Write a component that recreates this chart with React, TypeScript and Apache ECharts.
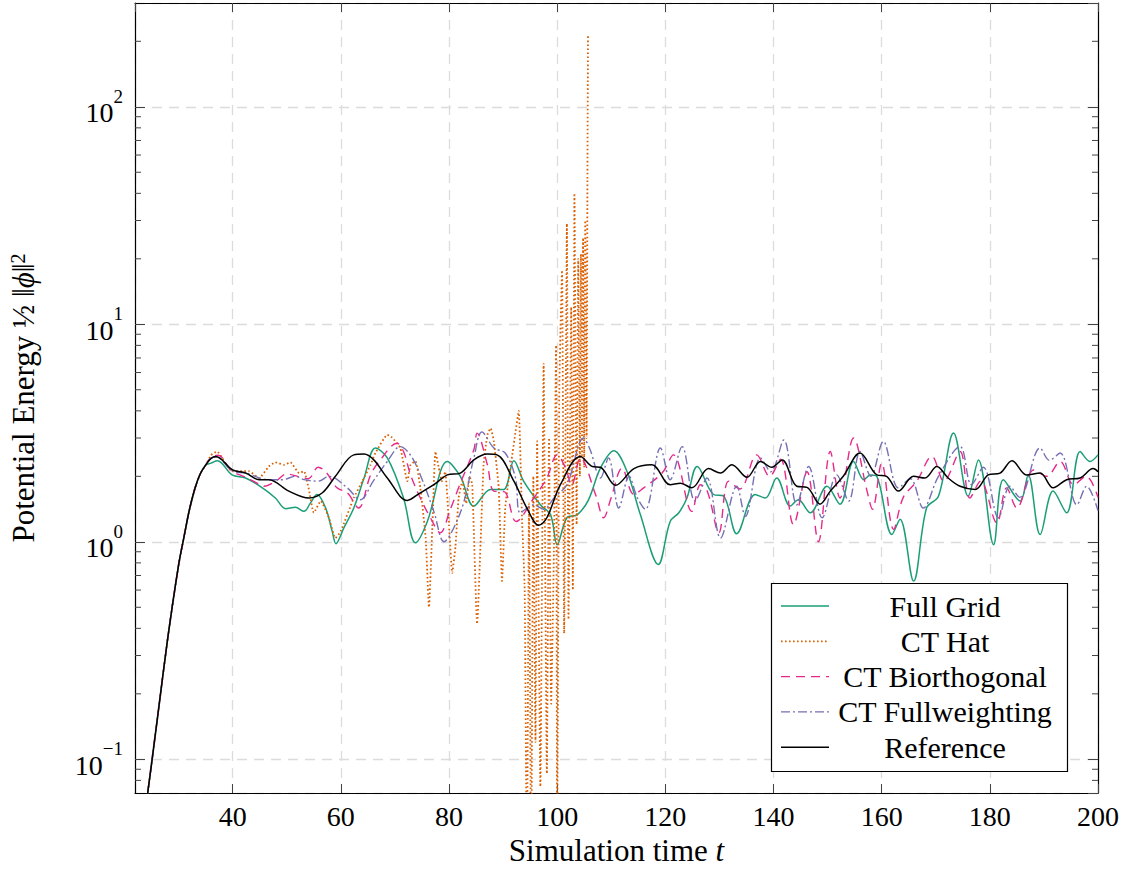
import React, { useEffect, useRef } from 'react';
import * as echarts from 'echarts';

const X_MIN = 21.95;
const X_MAX = 200;
const Y_MIN = 0.07;
const Y_MAX = 300;

const seriesNames = ['Full Grid', 'CT Hat', 'CT Biorthogonal', 'CT Fullweighting', 'Reference'];
const seriesColors = ['#1b9e77', '#d95f02', '#e7298a', '#7570b3', '#000000'];

// shared initial growth phase (t, energy)
const riseShared = [[21.5, 0.024], [24, 0.062], [26, 0.148], [28, 0.36], [30, 0.78], [31, 1.05], [32, 1.4], [33, 1.75], [34, 2.05], [35, 2.25]];

const fullGridData = [[36, 2.3], [37.2, 2.36], [39.9, 2.03], [42.4, 1.965], [45.5, 1.77], [47.9, 1.59], [49.8, 1.42], [51.6, 1.44], [53.2, 1.38], [54.4, 1.51], [55.6, 1.65], [57.2, 1.43], [58.4, 1.12], [59.1, 0.98], [60.5, 1.15], [62.4, 1.43], [64.3, 1.965], [66.4, 2.7], [68.6, 2.43], [71.6, 1.59], [73.8, 0.99], [76, 1.24], [79.7, 2.34], [82.1, 2.0], [84.6, 1.46], [87.7, 1.74], [90.1, 1.74], [92, 2.36], [93.8, 1.9], [96.9, 1.48], [98.8, 1.33], [100, 0.97], [101.8, 1.29], [103.7, 1.33], [105.8, 1.56], [108, 2.18], [110.5, 2.62], [112.9, 2.11], [115.4, 1.33], [118.7, 0.787], [120.9, 1.24], [122.5, 1.36], [124, 1.59], [125.9, 2.22], [128.9, 1.65], [130.8, 1.62], [133.2, 1.09], [136.6, 1.65], [138.5, 1.59], [140.6, 1.965], [143.1, 1.46], [144.6, 1.56], [146.8, 1.36], [149.9, 1.8], [152.3, 1.49], [154.8, 2.34], [156.7, 1.93], [157.9, 2.03], [159.1, 2.0], [161.9, 1.08], [163.4, 1.27], [165.9, 0.66], [168.3, 1.43], [170.5, 1.62], [173.3, 3.16], [176, 1.62], [177.9, 2.38], [180.7, 0.97], [182.5, 1.93], [185.6, 1.54], [187.1, 2.03], [189.3, 1.08], [191.7, 1.71], [194.2, 1.36], [196.7, 2.6], [198.5, 2.34], [200, 2.51]];

const ctHatData = [[36, 2.5], [37.1, 2.6], [39.9, 2.11], [43, 2.11], [44.9, 1.965], [46.7, 2.22], [47.9, 2.32], [49.5, 2.26], [50.7, 2.32], [52.3, 2.07], [53.2, 2.11], [54.1, 1.74], [55, 1.36], [56.3, 1.54], [57.8, 1.29], [59, 1.04], [60, 1.12], [62.4, 1.59], [64, 1.9], [65.5, 2.26], [66.4, 2.56], [68.6, 3.1], [69.3, 3.05], [71, 2.7], [72.3, 1.9], [72.9, 2.26], [73.8, 2.35], [74.7, 1.77], [75.7, 1.04], [76.3, 0.5], [76.9, 1.12], [77.5, 2.6], [78.1, 2.2], [78.7, 1.9], [79.3, 2.1], [80, 1.2], [80.6, 0.72], [81.2, 0.95], [81.8, 1.6], [82.5, 1.9], [83.2, 1.5], [83.8, 2.0], [84.3, 1.83], [85.2, 0.42], [86.4, 2.26], [87.1, 3.1], [87.7, 3.33], [88.3, 2.89], [89.2, 1.77], [89.8, 0.66], [90.4, 1.43], [91, 1.9], [91.6, 2.4], [92.3, 3.2], [92.9, 4.0], [93.5, 1.3], [94, 0.6], [94.4, 0.03], [94.8, 1.5], [95.2, 0.03], [95.6, 2.0], [96, 0.12], [96.3, 2.9], [96.9, 0.075], [97.5, 6.6], [98.1, 0.086], [98.5, 3.0], [98.9, 0.18], [99.4, 0.9], [99.8, 8.0], [100, 0.04], [100.4, 5.0], [100.9, 17.7], [101.3, 0.38], [101.8, 29], [102.1, 0.44], [102.6, 12], [102.9, 0.6], [103.2, 40], [103.6, 1.2], [103.9, 20], [104.2, 2.0], [104.4, 21], [104.6, 2.5], [104.8, 25], [105, 2.2], [105.2, 30], [105.45, 3], [105.6, 46], [105.7, 211]];

const ctBiorthogonalData = [[36, 2.44], [37.3, 2.5], [39.9, 2.11], [42, 2.0], [44.2, 1.88], [45.8, 1.8], [48, 1.9], [50, 2.05], [52, 2.0], [54, 1.95], [55.8, 2.2], [57.2, 2.1], [59.3, 1.77], [61.2, 1.68], [63.3, 1.43], [65.5, 2.03], [67.3, 2.38], [70.4, 2.84], [71.6, 2.6], [72.9, 2.03], [74.7, 1.59], [76.5, 1.3], [78.4, 1.1], [80.2, 1.4], [82.1, 1.86], [84.6, 2.65], [85.2, 3.16], [87.1, 2.26], [88.3, 1.71], [90.2, 1.7], [92.4, 1.24], [95.7, 1.59], [98.1, 1.965], [100, 2.51], [101.5, 2.2], [102.7, 1.83], [104.3, 2.43], [107.1, 1.65], [108.6, 1.29], [110, 1.6], [112, 2.18], [114.2, 1.65], [116, 1.77], [119.4, 2.07], [121.5, 2.51], [124.9, 1.38], [126.5, 1.83], [127.8, 1.7], [129.9, 1.1], [131.7, 1.9], [133.8, 1.75], [136.9, 2.51], [139.3, 2.0], [141.3, 2.4], [143.7, 1.2], [146.2, 2.1], [148.3, 1.0], [150.5, 2.6], [152.3, 1.59], [154.8, 3.0], [157.3, 1.71], [158.3, 1.41], [160, 2.3], [162.2, 1.14], [164, 1.6], [166.5, 1.9], [169.3, 2.47], [171.5, 1.9], [174.5, 2.6], [176.3, 1.59], [178.3, 1.9], [181.3, 1.22], [183.1, 1.77], [185, 1.43], [188.1, 2.14], [190.5, 2.0], [193, 2.34], [195.5, 1.83], [197.8, 2.0], [200, 1.6]];

const ctFullweightingData = [[36, 2.42], [37, 2.45], [39.9, 2.12], [42.4, 2.07], [46.7, 1.93], [49.2, 1.93], [51.6, 2.0], [53.2, 1.93], [55.9, 1.9], [57.8, 2.0], [61.2, 1.77], [63.6, 1.56], [66, 1.9], [68.6, 2.34], [71, 2.74], [72.9, 2.5], [74.7, 2.03], [77.2, 1.38], [79.1, 1.0], [80.9, 1.16], [82.8, 1.54], [84.6, 2.43], [86.1, 3.2], [88.3, 2.7], [90.4, 2.56], [92.3, 1.965], [93.2, 1.36], [95.7, 1.48], [97.5, 1.41], [99.5, 1.6], [101.8, 1.83], [104.9, 3.0], [106.1, 2.65], [108, 1.965], [109.5, 2.43], [111.4, 1.43], [113.3, 2.0], [114.8, 1.6], [116.3, 1.41], [119.1, 2.7], [120.9, 1.93], [123.1, 2.74], [125.5, 1.54], [127.7, 1.965], [130.2, 1.04], [133.2, 1.8], [134.8, 1.31], [137.6, 2.43], [139.5, 2.1], [141.9, 2.94], [144.3, 1.48], [146.5, 2.22], [149, 1.29], [151.7, 2.03], [153.9, 1.54], [156, 2.6], [158, 2.0], [160.3, 2.89], [163.1, 1.77], [165.3, 1.95], [167.7, 1.43], [170.5, 2.0], [174.5, 2.74], [176.6, 1.83], [178.8, 2.2], [181.6, 1.29], [183.7, 1.8], [185.5, 1.6], [189.3, 2.7], [191, 2.37], [193, 2.56], [196.1, 1.48], [197.9, 1.8], [200, 1.39]];

const referenceData = [[36, 2.42], [36.9, 2.47], [40, 2.14], [42.4, 2.07], [44.9, 1.93], [46.7, 1.93], [50.4, 1.71], [54.1, 1.59], [56.6, 1.68], [59, 2.0], [62.4, 2.51], [64.3, 2.53], [66.1, 2.38], [68.6, 1.965], [72.3, 1.55], [74.7, 1.68], [77.2, 1.83], [79.7, 2.03], [82.1, 2.07], [84.6, 2.38], [87.1, 2.53], [88.9, 2.51], [92, 1.9], [94.4, 1.43], [96.6, 1.19], [98.1, 1.29], [100.6, 1.83], [104.3, 2.47], [106.5, 2.22], [108, 2.2], [110.8, 1.82], [114.2, 2.17], [117.5, 2.26], [120.9, 1.83], [122.8, 1.86], [124.9, 1.77], [128, 2.17], [130.2, 2.07], [132.3, 2.26], [135.1, 1.98], [137.6, 2.34], [139.7, 2.2], [141.6, 2.38], [144.3, 1.8], [146.2, 1.78], [148.6, 1.49], [150.5, 1.71], [152.9, 2.0], [156, 2.56], [159.1, 2.03], [160.9, 2.0], [163.1, 1.71], [165.9, 2.0], [168, 1.965], [170.2, 2.22], [172.3, 1.965], [174.5, 1.8], [177.3, 1.74], [179.7, 2.03], [181.9, 2.07], [184.1, 2.36], [186.8, 2.03], [189.3, 2.07], [191.7, 1.77], [194.2, 1.93], [196.7, 1.965], [199.1, 2.17], [200, 2.1]];

const minorTickValues = [0.08, 0.09, 0.2, 0.3, 0.4, 0.5, 0.6, 0.7, 0.8, 0.9, 2, 3, 4, 5, 6, 7, 8, 9, 20, 30, 40, 50, 60, 70, 80, 90, 200];

const FONT = 'Liberation Serif';

export default function App() {
  const ref = useRef<HTMLDivElement>(null);

  useEffect(() => {
    if (!ref.current) return;
    const chart = echarts.init(ref.current, null, { renderer: 'svg' });

    const allData = [fullGridData, ctHatData, ctBiorthogonalData, ctFullweightingData, referenceData];
    const dashes: any[] = ['solid', [1.6, 2.4], [9, 6], [9, 3, 2, 3], 'solid'];
    const widths = [1.5, 1.8, 1.4, 1.4, 1.5];
    const smooths = [0.35, 0.15, 0.35, 0.35, 0.35];

    const lineSeries = allData.map((d, i) => ({
      name: seriesNames[i],
      type: 'line',
      data: [...riseShared, ...d],
      showSymbol: false,
      symbol: 'none',
      smooth: smooths[i],
      clip: true,
      lineStyle: { color: seriesColors[i], width: widths[i], type: dashes[i] },
      itemStyle: { color: seriesColors[i] },
      z: 2 + i,
    }));

    const legendX = 771.5, legendY = 583.5, legendW = 296, legendH = 188;
    const rowY0 = 606, rowGap = 35.3;
    const legendGraphics: any[] = [
      { type: 'rect', z: 100, shape: { x: legendX, y: legendY, width: legendW, height: legendH }, style: { fill: '#fff', stroke: '#000', lineWidth: 1.2 } },
    ];
    seriesNames.forEach((n, i) => {
      const y = rowY0 + i * rowGap;
      legendGraphics.push({
        type: 'line', z: 101,
        shape: { x1: 781, y1: y, x2: 829, y2: y },
        style: { stroke: seriesColors[i], lineWidth: widths[i], lineDash: Array.isArray(dashes[i]) ? dashes[i] : null },
      });
      legendGraphics.push({
        type: 'text', z: 101, x: 945, y: y,
        style: { text: n, font: '30px "Liberation Serif", serif', fill: '#000', align: 'center', verticalAlign: 'middle' },
      });
    });

    const option: any = {
      animation: false,
      backgroundColor: '#fff',
      grid: { left: 135, right: 31, top: 3, bottom: 75, containLabel: false },
      xAxis: [
        {
          type: 'value', min: X_MIN, max: X_MAX, splitNumber: 9, position: 'bottom',
          name: 'Simulation time {i|t}', nameLocation: 'middle', nameGap: 42,
          nameTextStyle: { fontSize: 31, fontFamily: FONT, color: '#000', rich: { i: { fontSize: 31, fontFamily: FONT, fontStyle: 'italic', color: '#000' } } },
          axisLine: { show: true, onZero: false, lineStyle: { color: '#000', width: 1.2 } },
          axisTick: { show: true, inside: true, length: 9, lineStyle: { color: '#444', width: 1 } },
          axisLabel: { showMinLabel: false, fontSize: 28, fontFamily: FONT, color: '#000', margin: 9 },
          splitLine: { show: true, lineStyle: { color: '#dcdcdc', width: 1.3, type: [10, 7] } },
        },
        {
          type: 'value', min: X_MIN, max: X_MAX, splitNumber: 9, position: 'top',
          axisLine: { show: true, onZero: false, lineStyle: { color: '#000', width: 1.2 } },
          axisTick: { show: true, inside: true, length: 9, lineStyle: { color: '#444', width: 1 } },
          axisLabel: { show: false },
          splitLine: { show: false },
        },
      ],
      yAxis: [
        {
          type: 'log', logBase: 10, min: Y_MIN, max: Y_MAX, position: 'left',
          name: 'Potential Energy {f|½} ‖{i|ϕ}‖{s|2}', nameLocation: 'middle', nameGap: 96, nameRotate: 90,
          nameTextStyle: {
            fontSize: 31, fontFamily: FONT, color: '#000',
            rich: {
              f: { fontSize: 31, fontFamily: FONT, color: '#000' },
              i: { fontSize: 31, fontFamily: FONT, fontStyle: 'italic', color: '#000' },
              s: { fontSize: 20, fontFamily: FONT, color: '#000', verticalAlign: 'top', lineHeight: 20 },
            },
          },
          axisLine: { show: true, onZero: false, lineStyle: { color: '#000', width: 1.2 } },
          axisTick: { show: true, inside: true, length: 10, lineStyle: { color: '#444', width: 1 } },
          axisLabel: {
            showMinLabel: false, showMaxLabel: false, margin: 12,
            formatter: (v: number) => {
              const e = Math.round(Math.log10(v));
              const es = e < 0 ? '−' + String(-e) : String(e);
              return '{b|10}{s|' + es + '}';
            },
            rich: {
              b: { fontSize: 28, fontFamily: FONT, color: '#000', lineHeight: 40, verticalAlign: 'bottom' },
              s: { fontSize: 19, fontFamily: FONT, color: '#000', lineHeight: 19, verticalAlign: 'top' },
            },
          },
          splitLine: { show: true, lineStyle: { color: '#dcdcdc', width: 1.3, type: [10, 7] } },
        },
        {
          type: 'log', logBase: 10, min: Y_MIN, max: Y_MAX, position: 'right',
          axisLine: { show: true, onZero: false, lineStyle: { color: '#000', width: 1.2 } },
          axisTick: { show: true, inside: true, length: 10, lineStyle: { color: '#444', width: 1 } },
          axisLabel: { show: false },
          splitLine: { show: false },
        },
      ],
      series: [
        ...lineSeries,
        {
          type: 'custom',
          silent: true,
          xAxisIndex: 0,
          yAxisIndex: 0,
          data: minorTickValues.map((v) => [X_MIN, v]),
          clip: false,
          z: 50,
          renderItem: (params: any, api: any) => {
            const cs = params.coordSys;
            const y = api.coord([api.value(0), api.value(1)])[1];
            const st = { stroke: '#444', lineWidth: 1 };
            return {
              type: 'group',
              children: [
                { type: 'line', shape: { x1: cs.x, y1: y, x2: cs.x + 6, y2: y }, style: st },
                { type: 'line', shape: { x1: cs.x + cs.width - 6, y1: y, x2: cs.x + cs.width, y2: y }, style: st },
              ],
            };
          },
        },
      ],
      graphic: legendGraphics,
    };

    chart.setOption(option);
    return () => chart.dispose();
  }, []);

  return (
    <div
      ref={ref}
      style={{ position: 'fixed', left: 0, top: 0, width: 1129, height: 871, background: '#fff' }}
    />
  );
}
